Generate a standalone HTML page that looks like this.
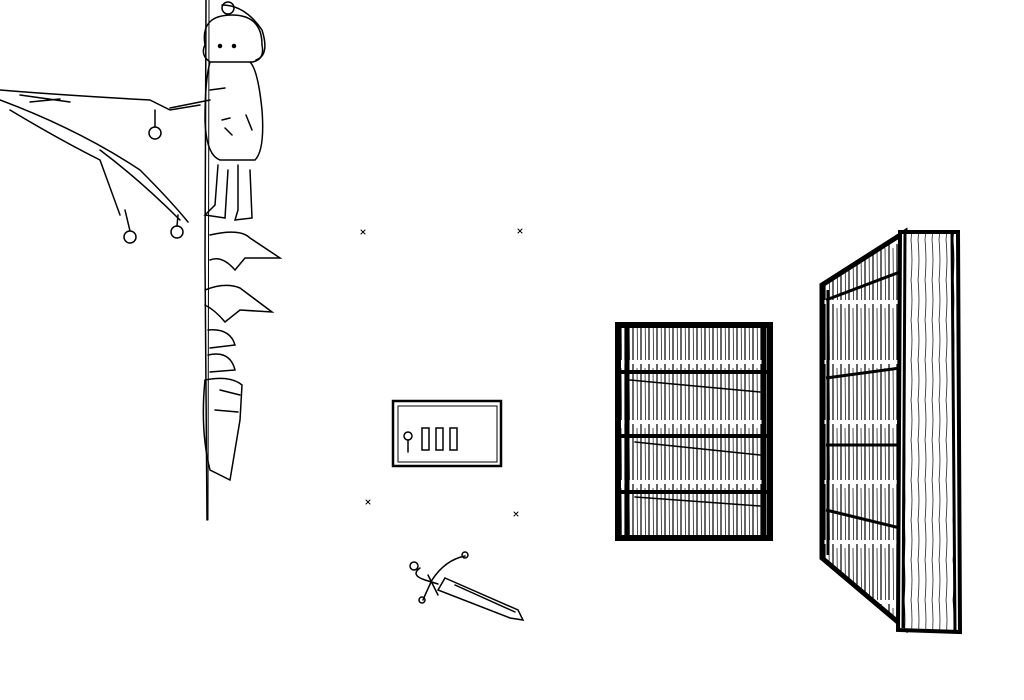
<!DOCTYPE html>
<html><head><meta charset="utf-8"><style>html,body{margin:0;padding:0;background:#fff}svg{display:block}</style></head>
<body>
<svg width="1024" height="700" viewBox="0 0 1024 700" xmlns="http://www.w3.org/2000/svg">
<defs>
<pattern id="books" width="8" height="60" patternUnits="userSpaceOnUse">
<rect width="8" height="60" fill="#fff"/>
<line x1="1" y1="4" x2="1" y2="60" stroke="#000" stroke-width="1.2"/>
<line x1="5" y1="8" x2="5.5" y2="60" stroke="#000" stroke-width="0.7"/>
</pattern>
<pattern id="wood" width="7" height="40" patternUnits="userSpaceOnUse">
<rect width="7" height="40" fill="#fff"/>
<path d="M1 0 Q3 20 1 40" stroke="#000" fill="none" stroke-width="0.7"/>
</pattern>
</defs>
<g fill="none" stroke="#000" stroke-width="1.5" stroke-linecap="round">
<path d="M206 0 L205 260 L207 520"/>
<path d="M209 0 L208 520" stroke-width="1"/>
<path d="M0 90 Q60 95 150 100 M0 100 Q80 130 140 170 Q170 200 188 222 M10 110 Q60 140 100 160 L120 215 M100 150 Q140 180 180 220 M150 100 L170 110 L200 105"/>
<path d="M20 95 L70 102 M30 102 L60 99"/>
<circle cx="155" cy="133" r="6"/><line x1="155" y1="110" x2="155" y2="127"/>
<circle cx="130" cy="237" r="6"/><line x1="125" y1="210" x2="130" y2="231"/>
<circle cx="177" cy="232" r="6"/><line x1="178" y1="215" x2="177" y2="226"/>
<path d="M205 45 Q200 15 232 15 Q262 15 262 45 Q265 60 252 62 L210 62 Q200 55 205 45Z"/>
<path d="M222 5 Q245 5 262 30 Q270 55 256 60"/>
<circle cx="228" cy="8" r="6"/>
<path d="M210 62 Q205 80 205 120 Q206 155 220 160 L255 160 Q265 150 262 110 Q258 70 250 62"/>
<circle cx="220" cy="46" r="1.5" fill="#000"/><circle cx="234" cy="46" r="1.5" fill="#000"/>
<path d="M170 108 L210 100 M210 90 L225 88"/>
<path d="M218 165 L215 205 L205 215 L225 218 L228 170 M238 165 L238 210 L235 220 L252 218 L250 170"/>
<path d="M222 120 L230 118 M225 128 L232 135 M246 115 L252 130"/>
<path d="M210 235 Q240 228 250 238 L280 258 L245 258 L235 270 Q222 255 210 260"/>
<path d="M205 290 Q225 282 240 288 L272 312 L240 310 L225 322 Q215 310 205 305"/>
<path d="M208 330 Q230 328 235 345 L210 348 M208 355 Q230 350 235 370 L210 372"/>
<path d="M205 380 Q230 375 242 385 L240 420 L230 480 L210 470 Q200 430 205 380Z"/>
<path d="M220 390 L240 395 M215 410 L238 412"/>
<path d="M361 230 l4 4 m0 -4 l-4 4 M518 229 l4 4 m0 -4 l-4 4 M366 500 l4 4 m0 -4 l-4 4 M514 512 l4 4 m0 -4 l-4 4" stroke-width="1"/>
<rect x="393" y="401" width="108" height="65" stroke-width="2.5"/>
<rect x="398" y="406" width="99" height="56" stroke-width="1"/>
<circle cx="408" cy="436" r="4"/><path d="M408 440 L408 452"/>
<rect x="422" y="428" width="7" height="22"/><rect x="436" y="428" width="7" height="22"/><rect x="450" y="428" width="7" height="22"/>
<path d="M445 578 L518 610 L523 620 L510 618 L438 590 Z"/>
<path d="M455 585 L515 612"/>
<path d="M428 575 L438 595 M420 568 Q410 575 425 580 L438 584"/>
<path d="M432 580 Q445 560 465 556 M432 580 Q425 595 423 600"/>
<circle cx="414" cy="566" r="4"/><circle cx="465" cy="555" r="3"/><circle cx="422" cy="600" r="3"/>
</g>
<!-- bookshelf 1 -->
<g stroke="#000" stroke-linecap="round" fill="none">
<rect x="618" y="325" width="152" height="213" fill="url(#books)" stroke-width="6"/>
<path d="M627 326 L627 538 M764 326 L764 538" stroke-width="5"/>
<path d="M622 372 L768 372 M622 436 L768 436 M622 492 L768 492" stroke-width="4"/>
<path d="M630 380 L760 392 M635 442 L760 455 M635 497 L760 506" stroke-width="1.5"/>
</g>
<!-- bookshelf 2 -->
<g stroke="#000" fill="none">
<path d="M822 285 L905 232 L905 628 L822 558 Z" fill="url(#books)" stroke-width="5"/>
<path d="M828 290 L828 555" stroke-width="3"/>
<path d="M826 300 L900 272 M826 378 L900 368 M826 445 L900 445 M826 510 L900 528" stroke-width="3"/>
<path d="M900 232 L958 232 L960 632 L898 630 Z" fill="url(#wood)" stroke-width="4"/>
<path d="M905 234 L903 628 M952 234 L955 630" stroke-width="3"/>
</g>
</svg>
</body></html>
